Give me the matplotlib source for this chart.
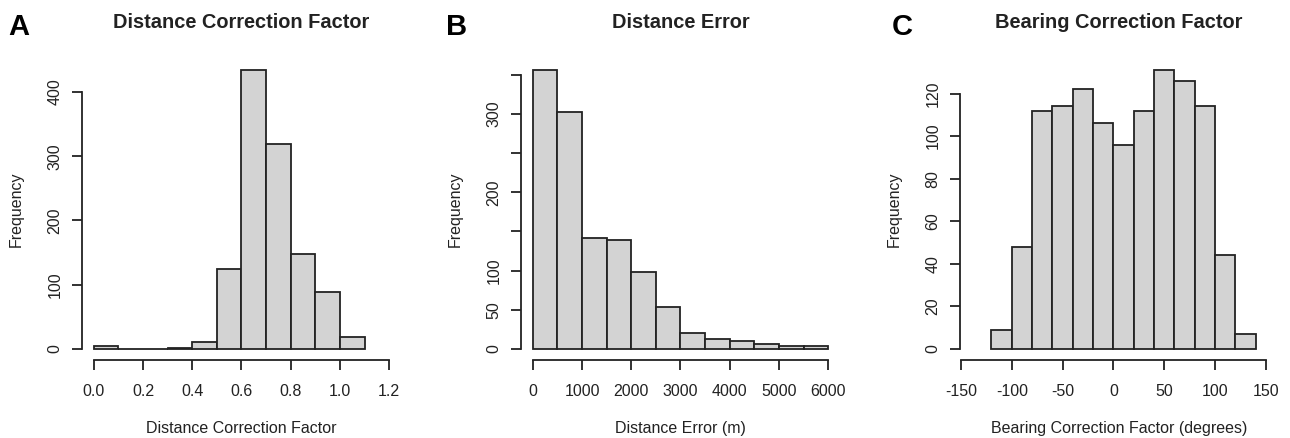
import numpy as np
import matplotlib
matplotlib.use("Agg")
import matplotlib.pyplot as plt

plt.rcParams['font.family'] = ['Liberation Sans', 'DejaVu Sans']

# histogram data
dcf_edges = [0.0, 0.1, 0.2, 0.3, 0.4, 0.5, 0.6, 0.7, 0.8, 0.9, 1.0, 1.1]
dcf_counts = [5, 0, 0, 2, 10, 124, 434, 319, 148, 88, 19]

derr_edges = [0, 500, 1000, 1500, 2000, 2500, 3000, 3500, 4000, 4500, 5000, 5500, 6000]
derr_counts = [356, 303, 141, 139, 98, 53, 20, 12, 10, 6, 4, 4]

bcf_edges = [-120, -100, -80, -60, -40, -20, 0, 20, 40, 60, 80, 100, 120, 140]
bcf_counts = [9, 48, 112, 114, 122, 106, 96, 112, 131, 126, 114, 44, 7]

dcf_xticks = [0.0, 0.2, 0.4, 0.6, 0.8, 1.0, 1.2]
dcf_xlabels = ['0.0', '0.2', '0.4', '0.6', '0.8', '1.0', '1.2']
dcf_yticks = [0, 100, 200, 300, 400]
dcf_ylabels = ['0', '100', '200', '300', '400']

derr_xticks = [0, 1000, 2000, 3000, 4000, 5000, 6000]
derr_xlabels = ['0', '1000', '2000', '3000', '4000', '5000', '6000']
derr_yticks = [0, 50, 100, 150, 200, 250, 300, 350]
derr_ylabels = ['0', '50', '100', '', '200', '', '300', '']

bcf_xticks = [-150, -100, -50, 0, 50, 100, 150]
bcf_xlabels = ['-150', '-100', '-50', '0', '50', '100', '150']
bcf_yticks = [0, 20, 40, 60, 80, 100, 120]
bcf_ylabels = ['0', '20', '40', '60', '80', '100', '120']

W, H = 1290, 438
fig = plt.figure(figsize=(W / 100, H / 100), dpi=100)
ink = '#222222'


def px_axes(left, right, top, bottom):
    return fig.add_axes([left / W, 1 - bottom / H, (right - left) / W, (bottom - top) / H])


def r_hist(ax, edges, counts, xlim, xticks, xlabels, yticks, ylabels, title, xlabel):
    edges = np.array(edges)
    ax.bar(edges[:-1], counts, width=np.diff(edges), align='edge',
           color='#d3d3d3', edgecolor=ink, linewidth=1.3)
    ymax = max(counts)
    ax.set_ylim(-0.04 * ymax, 1.04 * ymax)
    ax.set_xlim(*xlim)
    for s in ['top', 'right']:
        ax.spines[s].set_visible(False)
    ax.spines['left'].set_bounds(yticks[0], yticks[-1])
    ax.spines['bottom'].set_bounds(xticks[0], xticks[-1])
    for s in ['left', 'bottom']:
        ax.spines[s].set_color(ink)
        ax.spines[s].set_linewidth(1.3)
    ax.set_xticks(xticks)
    ax.set_xticklabels(xlabels)
    ax.set_yticks(yticks)
    ax.set_yticklabels(ylabels, rotation=90, va='center')
    ax.tick_params(length=7, width=1.3, color=ink, labelcolor=ink, labelsize=11.5)
    ax.tick_params(axis='x', pad=10)
    ax.tick_params(axis='y', pad=7)
    ax.set_title(title, fontsize=14.4, fontweight='bold', color=ink, pad=22)
    ax.set_xlabel(xlabel, fontsize=11.5, color=ink, labelpad=16)
    ax.set_ylabel('Frequency', fontsize=11.5, color=ink, labelpad=17)


axA = px_axes(82, 401, 59, 360)
r_hist(axA, dcf_edges, dcf_counts, (-0.048, 1.248), dcf_xticks, dcf_xlabels,
       dcf_yticks, dcf_ylabels, 'Distance Correction Factor', 'Distance Correction Factor')

axB = px_axes(521, 840, 59, 360)
r_hist(axB, derr_edges, derr_counts, (-240, 6240), derr_xticks, derr_xlabels,
       derr_yticks, derr_ylabels, 'Distance Error', 'Distance Error (m)')

axC = px_axes(960, 1278, 59, 360)
r_hist(axC, bcf_edges, bcf_counts, (-151, 162), bcf_xticks, bcf_xlabels,
       bcf_yticks, bcf_ylabels, 'Bearing Correction Factor', 'Bearing Correction Factor (degrees)')

for letter, x in [('A', 19), ('B', 457), ('C', 902)]:
    fig.text(x / W, 1 - 27 / H, letter, fontsize=21, fontweight='bold',
             ha='center', va='center', color='black')

fig.savefig('out.png', dpi=100)
